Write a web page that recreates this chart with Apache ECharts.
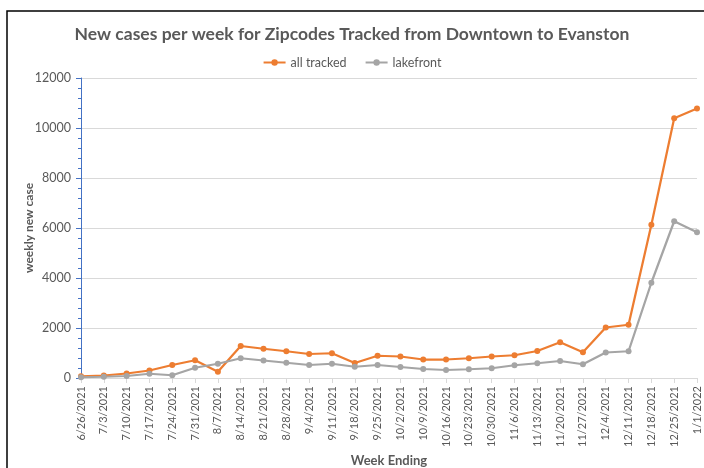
<!DOCTYPE html>
<html><head><meta charset="utf-8">
<script src="https://cdn.jsdelivr.net/npm/echarts@6/dist/echarts.min.js"></script>
<style>html,body{margin:0;padding:0;background:#fff}#c{width:704px;height:468px}</style>
</head><body><div id="c"></div>
<script>
const weeks = ["6/26/2021","7/3/2021","7/10/2021","7/17/2021","7/24/2021","7/31/2021","8/7/2021","8/14/2021","8/21/2021","8/28/2021","9/4/2021","9/11/2021","9/18/2021","9/25/2021","10/2/2021","10/9/2021","10/16/2021","10/23/2021","10/30/2021","11/6/2021","11/13/2021","11/20/2021","11/27/2021","12/4/2021","12/11/2021","12/18/2021","12/25/2021","1/1/2022"];
const allTracked = [70,100,180,300,520,710,250,1280,1170,1070,960,990,600,890,860,740,740,790,860,910,1080,1430,1030,2020,2130,6130,10390,10780];
const lakefront = [30,50,80,170,110,410,570,790,700,610,520,570,450,520,440,360,320,350,390,510,590,680,550,1020,1070,3810,6270,5830];
const yTicks = {min:0, max:12000, interval:2000};

const chart = echarts.init(document.getElementById('c'));
const font = 'Lato, "Open Sans", sans-serif';
chart.setOption({
  animation:false,
  backgroundColor:'#fff',
  title:{text:'New cases per week for Zipcodes Tracked from Downtown to Evanston',left:'center',top:20,
    textStyle:{fontFamily:font,fontSize:17.5,fontWeight:'bold',color:'#595959'}},
  legend:{top:51,left:'center',itemWidth:22,itemHeight:8,itemGap:18,
    textStyle:{fontFamily:font,fontSize:12.5,color:'#595959'},
    data:['all tracked','lakefront']},
  graphic:[{type:'rect',shape:{x:7,y:11,width:720,height:480},style:{fill:'none',stroke:'#000',lineWidth:1.5},silent:true}],
  grid:{left:81,right:7,top:78,bottom:90,containLabel:false,outerBoundsMode:'none'},
  xAxis:{type:'category',data:weeks,boundaryGap:false,
    name:'Week Ending',nameLocation:'middle',nameGap:76,nameMoveOverlap:false,
    nameTextStyle:{fontFamily:font,fontSize:13,fontWeight:'bold',color:'#595959'},
    axisLine:{lineStyle:{color:'#d9d9d9',width:1}},
    axisTick:{show:true,alignWithLabel:true,length:5,lineStyle:{color:'#d9d9d9'}},
    axisLabel:{interval:0,rotate:90,fontFamily:font,fontSize:11,color:'#595959',margin:8},
    splitLine:{show:false}},
  yAxis:{type:'value',min:yTicks.min,max:yTicks.max,interval:yTicks.interval,
    name:'weekly new case',nameLocation:'middle',nameGap:46,nameRotate:90,nameMoveOverlap:false,
    nameTextStyle:{fontFamily:font,fontSize:12,fontWeight:'bold',color:'#595959'},
    axisLine:{show:true,lineStyle:{color:'#4472C4',width:1}},
    axisTick:{show:true,length:5,lineStyle:{color:'#4472C4'}},
    minorTick:{show:true,splitNumber:5,length:3,lineStyle:{color:'#4472C4'}},
    axisLabel:{fontFamily:font,fontSize:12.5,color:'#595959',margin:10,formatter:v=>String(v)},
    splitLine:{lineStyle:{color:'#d9d9d9',width:1}}},
  series:[
    {name:'all tracked',type:'line',data:allTracked,symbol:'circle',symbolSize:6,
      lineStyle:{color:'#ED7D31',width:2.25},itemStyle:{color:'#ED7D31'}},
    {name:'lakefront',type:'line',data:lakefront,symbol:'circle',symbolSize:6,
      lineStyle:{color:'#A5A5A5',width:2.25},itemStyle:{color:'#A5A5A5'}}
  ]
});
</script></body></html>
